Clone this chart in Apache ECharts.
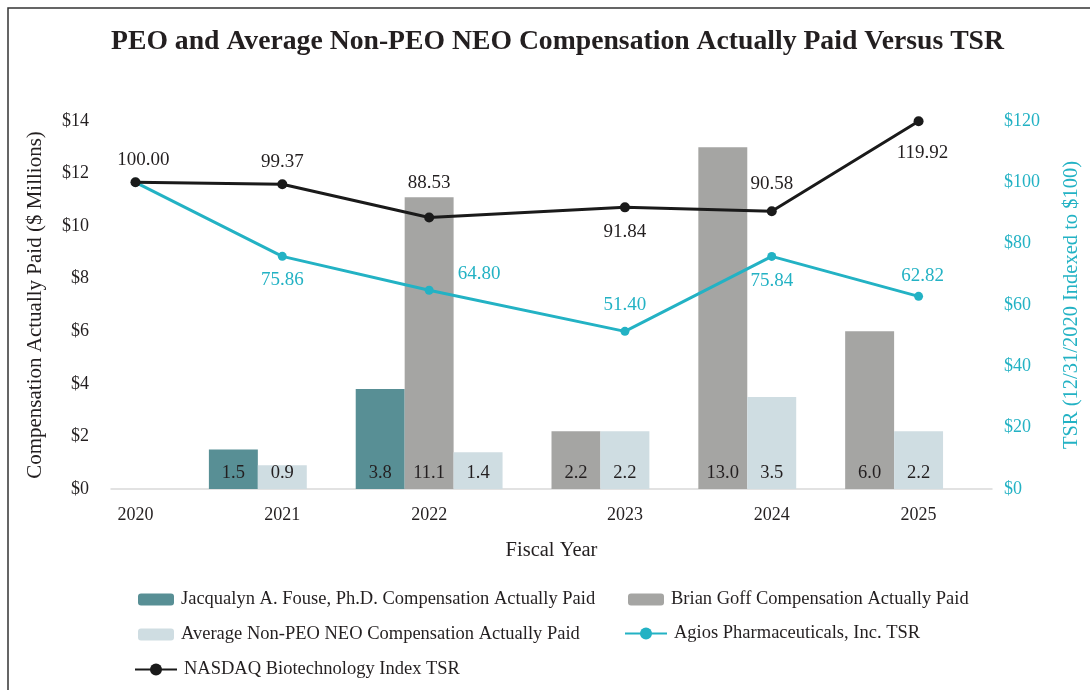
<!DOCTYPE html>
<html>
	<head>
		<meta charset="utf-8">
		<title>PEO and Average Non-PEO NEO Compensation Actually Paid Versus TSR</title>
		<script type="text/javascript" src="https://cdn.jsdelivr.net/npm/echarts@6/dist/echarts.min.js"></script>
		<style>
			html, body { margin: 0; padding: 0; background: #fff; }
		</style>
	</head>
	<body>
		<div id="chart" style="width:1090px;height:690px;"></div>
		<script type="text/javascript">
			// data
			var years = ['2020', '2021', '2022', '2023', '2024', '2025'];
			var fouseCap = [null, 1.5, 3.8, null, null, null];
			var goffCap = [null, null, 11.1, 2.2, 13.0, 6.0];
			var avgNeoCap = [null, 0.9, 1.4, 2.2, 3.5, 2.2];
			var agiosTsr = [100.00, 75.86, 64.80, 51.40, 75.84, 62.82];
			var nasdaqTsr = [100.00, 99.37, 88.53, 91.84, 90.58, 119.92];
			var compTicks = [0, 2, 4, 6, 8, 10, 12, 14];
			var tsrTicks = [0, 20, 40, 60, 80, 100, 120];

			// layout: the x axis is cut into bar-wide slots, each mark sits in one slot
			var SLOTS = 18;
			var yearSlot = [0, 3, 6, 10, 13, 16];
			var fouseSlot = [null, 2, 5, null, null, null];
			var goffSlot = [null, null, 6, 9, 12, 15];
			var avgSlot = [null, 3, 7, 10, 13, 16];

			var FONT = '"Liberation Serif", "Times New Roman", serif';
			var TEXT = '#231f20';
			var TEAL = '#23b2c4';

			function toSlots(values, slots, itemFn) {
				var arr = [];
				for (var i = 0; i < SLOTS; i++) arr.push(null);
				values.forEach(function(v, i) {
					if (v === null) return;
					arr[slots[i]] = itemFn ? itemFn(v, i) : v;
				});
				return arr;
			}

			var slotLabels = toSlots(years, yearSlot);
			for (var i = 0; i < SLOTS; i++) if (slotLabels[i] === null) slotLabels[i] = '';

			// label placement for the line points
			var nasdaqLabel = [
				{ position: 'top', distance: 8, offset: [8, 0] },
				{ position: 'top', distance: 8 },
				{ position: 'top', distance: 20 },
				{ position: 'bottom', distance: 10 },
				{ position: 'top', distance: 13 },
				{ position: 'bottom', distance: 17, offset: [4, 0] }
			];
			var agiosLabel = [
				{ show: false },
				{ position: 'bottom', distance: 10 },
				{ position: 'right', distance: 0, offset: [24, -16] },
				{ position: 'top', distance: 12 },
				{ position: 'bottom', distance: 11 },
				{ position: 'top', distance: 6, offset: [4, 0] }
			];

			function barSeries(name, values, slots, color) {
				return {
					name: name,
					type: 'bar',
					stack: 'cap',
					barWidth: '100%',
					itemStyle: { color: color },
					label: {
						show: true,
						position: 'insideBottom',
						distance: 6,
						color: TEXT,
						fontFamily: FONT,
						fontSize: 18.5,
						formatter: function(p) { return p.value.toFixed(1); }
					},
					data: toSlots(values, slots)
				};
			}

			function lineSeries(name, values, labels, color, labelColor, size) {
				return {
					name: name,
					type: 'line',
					yAxisIndex: 1,
					connectNulls: true,
					symbol: 'circle',
					symbolSize: size,
					lineStyle: { color: color, width: 3 },
					itemStyle: { color: color },
					label: {
						show: true,
						color: labelColor,
						fontFamily: FONT,
						fontSize: 19,
						formatter: function(p) { return p.value.toFixed(2); }
					},
					data: toSlots(values, yearSlot, function(v, i) {
						return { value: v, label: labels[i] };
					})
				};
			}

			function legendAt(name, left, top, width, height) {
				return {
					data: [name],
					left: left,
					top: top,
					itemWidth: width,
					itemHeight: height,
					itemGap: 0,
					textStyle: { fontFamily: FONT, fontSize: 18.5, color: TEXT, padding: [0, 0, 0, 2] },
					selectedMode: false
				};
			}

			var myChart = echarts.init(document.getElementById('chart'));
			var option = {
				animation: false,
				title: {
					text: 'PEO and Average Non-PEO NEO Compensation Actually Paid Versus TSR',
					left: 106,
					top: 23,
					textStyle: { fontFamily: FONT, fontSize: 27.7, fontWeight: 'bold', color: TEXT }
				},
				graphic: [{
					type: 'rect',
					shape: { x: 8, y: 8, width: 1200, height: 1200 },
					style: { fill: 'none', stroke: '#333', lineWidth: 1.5 }
				}],
				legend: [
					legendAt('Jacqualyn A. Fouse, Ph.D. Compensation Actually Paid', 133, 585, 36, 12),
					legendAt('Brian Goff Compensation Actually Paid', 623, 585, 36, 12),
					legendAt('Average Non-PEO NEO Compensation Actually Paid', 133, 620, 36, 12),
					legendAt('Agios Pharmaceuticals, Inc. TSR', 619, 619, 42, 15),
					legendAt('NASDAQ Biotechnology Index TSR', 129, 655, 42, 15)
				],
				grid: { left: 111, right: 93, top: 121, bottom: 201 },
				xAxis: {
					type: 'category',
					data: slotLabels,
					name: 'Fiscal Year',
					nameLocation: 'middle',
					nameGap: 51,
					nameTextStyle: { fontFamily: FONT, fontSize: 20.5, color: TEXT },
					axisLine: { lineStyle: { color: '#d9d9d9', width: 1.5 } },
					axisTick: { show: false },
					axisLabel: { interval: 0, margin: 17, fontFamily: FONT, fontSize: 18, color: TEXT }
				},
				yAxis: [{
					type: 'value',
					min: compTicks[0],
					max: compTicks[compTicks.length - 1],
					interval: compTicks[1] - compTicks[0],
					name: 'Compensation Actually Paid ($ Millions)',
					nameLocation: 'middle',
					nameRotate: 90,
					nameGap: 65,
					nameTextStyle: { fontFamily: FONT, fontSize: 21, color: TEXT },
					splitLine: { show: false },
					axisLine: { show: false },
					axisTick: { show: false },
					axisLabel: { margin: 22, fontFamily: FONT, fontSize: 18, color: TEXT, formatter: '${value}' }
				}, {
					type: 'value',
					min: tsrTicks[0],
					max: tsrTicks[tsrTicks.length - 1],
					interval: tsrTicks[1] - tsrTicks[0],
					name: 'TSR (12/31/2020 Indexed to $100)',
					nameLocation: 'middle',
					nameRotate: 90,
					nameGap: 69,
					nameTextStyle: { fontFamily: FONT, fontSize: 20.5, color: TEAL },
					splitLine: { show: false },
					axisLine: { show: false },
					axisTick: { show: false },
					axisLabel: { margin: 12, fontFamily: FONT, fontSize: 18, color: TEAL, formatter: '${value}' }
				}],
				series: [
					barSeries('Jacqualyn A. Fouse, Ph.D. Compensation Actually Paid', fouseCap, fouseSlot, '#588f95'),
					barSeries('Brian Goff Compensation Actually Paid', goffCap, goffSlot, '#a5a5a3'),
					barSeries('Average Non-PEO NEO Compensation Actually Paid', avgNeoCap, avgSlot, '#cfdde2'),
					lineSeries('Agios Pharmaceuticals, Inc. TSR', agiosTsr, agiosLabel, TEAL, TEAL, 9),
					lineSeries('NASDAQ Biotechnology Index TSR', nasdaqTsr, nasdaqLabel, '#1a1a1a', TEXT, 10)
				]
			};
			myChart.setOption(option);
		</script>
	</body>
</html>
